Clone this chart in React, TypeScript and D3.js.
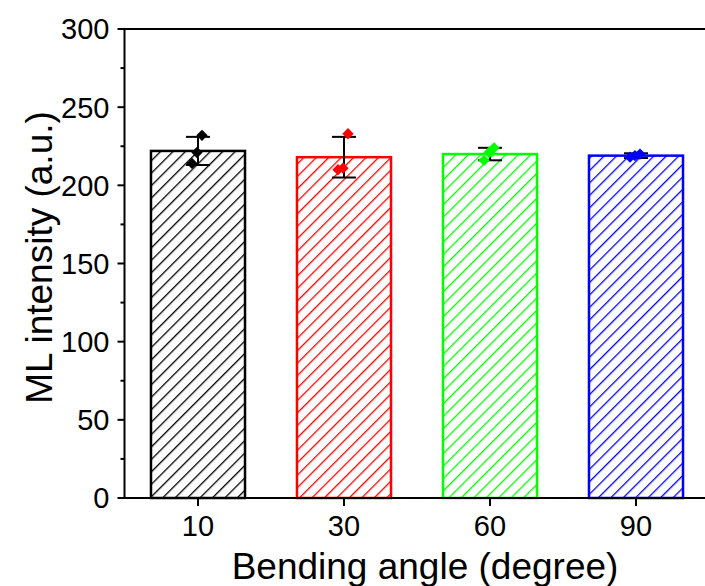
import React from 'react';
import * as d3 from 'd3';

const angles = ['10', '30', '60', '90'];
const means = [222, 218, 220, 219];
const errors = [9, 13, 4, 1.5];
const points = [
  [232, 221, 214],
  [233, 211, 210],
  [224, 221, 216],
  [220, 219, 218],
];
const colors = ['#000000', '#ff0000', '#00ff00', '#0000ff'];
const yTicks = [0, 50, 100, 150, 200, 250, 300];
const yMinor = [25, 75, 125, 175, 225, 275];

const W = 705;
const H = 586;
const left = 124.5;
const top = 29;
const bottom = 498;
const font = 'Arial, "Liberation Sans", sans-serif';

export default function App() {
  const x = d3.scaleBand().domain(angles).range([125, 709]).paddingInner(0.356).paddingOuter(0.178);
  const y = d3.scaleLinear().domain([0, 300]).range([bottom, top]);
  const bw = x.bandwidth();

  const diamond = d3.symbol().type(d3.symbolSquare).size(64)();

  return (
    <svg width={W} height={H} style={{ position: 'absolute', left: 0, top: 0, background: '#fff' }}>
      <defs>
        {colors.map((c, i) => (
          <pattern key={i} id={`hatch${i}`} patternUnits="userSpaceOnUse" width={8.8} height={8.8}
            patternTransform="rotate(45)">
            <line x1={0} y1={-1} x2={0} y2={10} stroke={c} strokeWidth={2.6} />
          </pattern>
        ))}
      </defs>

      {/* bars */}
      {angles.map((a, i) => (
        <rect key={a} x={x(a)!} y={y(means[i])} width={bw} height={bottom - y(means[i])}
          fill={`url(#hatch${i})`} stroke={colors[i]} strokeWidth={2.5} />
      ))}

      {/* error bars */}
      {angles.map((a, i) => {
        const cx = x(a)! + bw / 2;
        const y1 = y(means[i] + errors[i]);
        const y2 = y(means[i] - errors[i]);
        return (
          <g key={a} stroke="#000" strokeWidth={2}>
            <line x1={cx} x2={cx} y1={y1} y2={y2} />
            <line x1={cx - 12} x2={cx + 12} y1={y1} y2={y1} />
            <line x1={cx - 12} x2={cx + 12} y1={y2} y2={y2} />
          </g>
        );
      })}

      {/* data points */}
      {angles.map((a, i) => {
        const cx = x(a)! + bw / 2;
        return points[i].map((v, j) => (
          <path key={`${a}-${j}`} d={diamond!}
            transform={`translate(${cx + (1 - j) * 5 - 1},${y(v)}) rotate(45)`}
            fill={colors[i]} />
        ));
      })}

      {/* frame */}
      <line x1={left} x2={W} y1={top} y2={top} stroke="#000" strokeWidth={2} />
      <line x1={left - 1} x2={W} y1={bottom} y2={bottom} stroke="#000" strokeWidth={2} />
      <line x1={left} x2={left} y1={top - 1} y2={bottom + 1} stroke="#000" strokeWidth={2} />

      {/* y ticks */}
      {yTicks.map(t => (
        <g key={t}>
          <line x1={left - 7} x2={left} y1={y(t)} y2={y(t)} stroke="#000" strokeWidth={2} />
          <text x={left - 15} y={y(t)} dy="0.36em" textAnchor="end" fontFamily={font} fontSize={29}>{t}</text>
        </g>
      ))}
      {yMinor.map(t => (
        <line key={t} x1={left - 4} x2={left} y1={y(t)} y2={y(t)} stroke="#000" strokeWidth={2} />
      ))}

      {/* x ticks */}
      {angles.map(a => {
        const cx = x(a)! + bw / 2;
        return (
          <g key={a}>
            <line x1={cx} x2={cx} y1={bottom} y2={bottom + 8} stroke="#000" strokeWidth={2} />
            <text x={cx} y={536} textAnchor="middle" fontFamily={font} fontSize={29}>{a}</text>
          </g>
        );
      })}

      <text x={425} y={579} textAnchor="middle" fontFamily={font} fontSize={37}>Bending angle (degree)</text>
      <text transform={`translate(52,${(top + bottom) / 2 - 6}) rotate(-90)`} textAnchor="middle"
        fontFamily={font} fontSize={37}>ML intensity (a.u.)</text>
    </svg>
  );
}
